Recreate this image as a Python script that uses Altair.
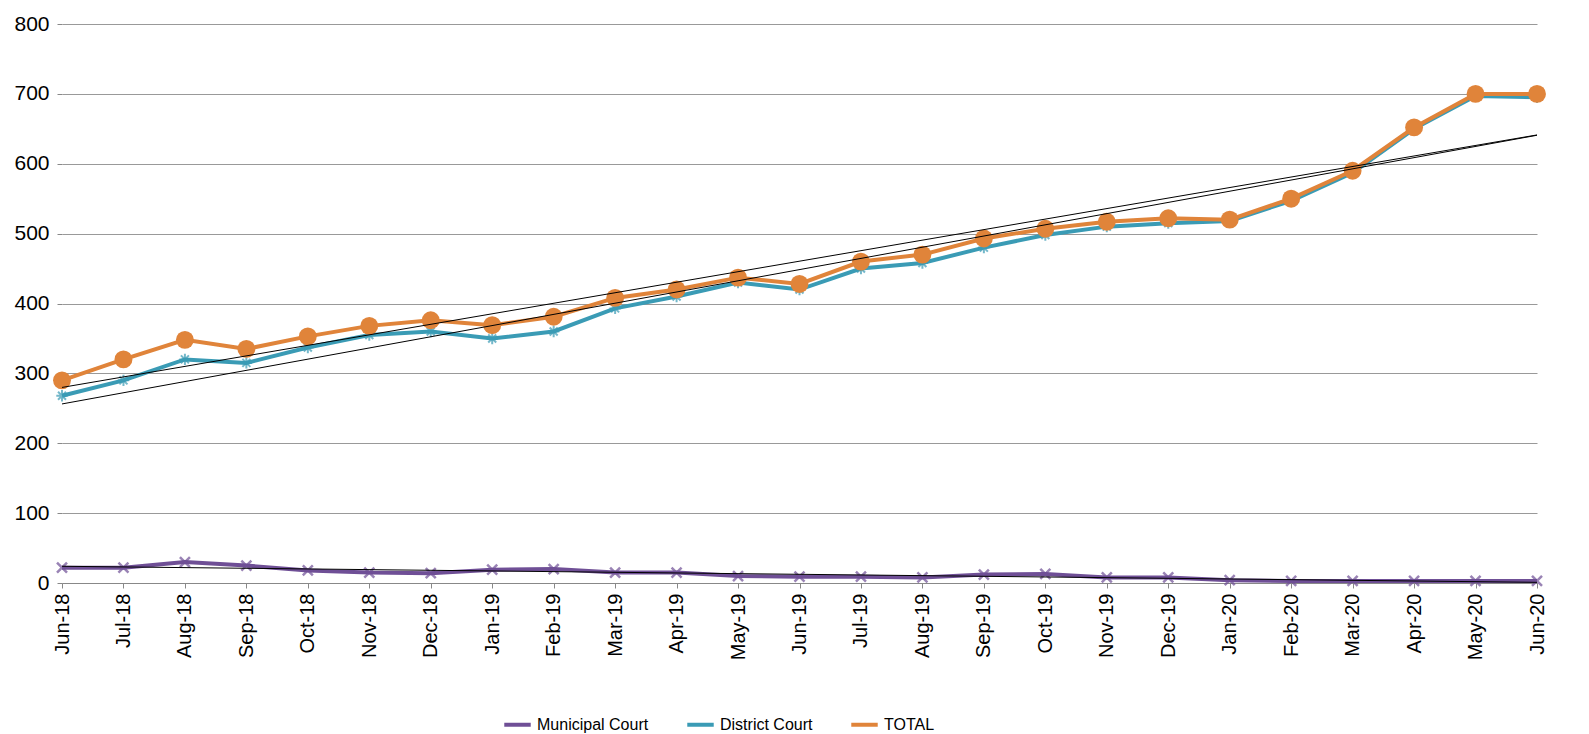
import altair as alt
import pandas as pd

months = ["Jun-18","Jul-18","Aug-18","Sep-18","Oct-18","Nov-18","Dec-18","Jan-19","Feb-19","Mar-19","Apr-19","May-19","Jun-19","Jul-19","Aug-19","Sep-19","Oct-19","Nov-19","Dec-19","Jan-20","Feb-20","Mar-20","Apr-20","May-20","Jun-20"]
municipal = [22,22,30,25,18,15,14,19,20,15,15,10,9,9,8,12,13,8,8,4,3,3,3,3,3]
district = [268,290,320,315,337,355,360,350,360,393,410,430,420,450,458,480,498,510,515,518,547,587,650,697,695]
total = [290,320,348,335,353,368,376,369,381,408,420,437,428,460,470,493,507,517,522,520,550,590,652,700,700]

series = ["Municipal Court","District Court","TOTAL"]
colors = ["#6F4F96","#3A9BB5","#E0843A"]
rows = []
for name, vals in zip(series, [municipal, district, total]):
    for i, v in enumerate(vals):
        rows.append({"i": i, "month": months[i], "series": name, "value": v})
df = pd.DataFrame(rows)

labexpr = "[" + ",".join(f"'{m}'" for m in months) + "][datum.value]"
x = alt.X("i:Q", scale=alt.Scale(domain=[0, 24], nice=False, zero=False),
          axis=alt.Axis(values=list(range(25)), labelExpr=labexpr, labelAngle=-90, title=None,
                        grid=False, labelFontSize=20, labelColor="#000", domainColor="#888",
                        tickColor="#888", labelPadding=5, labelFont="Liberation Sans"))
y = alt.Y("value:Q", scale=alt.Scale(domain=[0, 800]),
          axis=alt.Axis(values=list(range(0, 801, 100)), title=None, labelFontSize=21, labelColor="#000",
                        gridColor="#999", domainColor="#888", tickColor="#888", domain=False,
                        labelFont="Liberation Sans", labelPadding=8))
color = alt.Color("series:N", scale=alt.Scale(domain=series, range=colors),
                  legend=alt.Legend(orient="none", legendX=440, legendY=685, direction="horizontal",
                                    title=None, symbolType="stroke", symbolStrokeWidth=4,
                                    labelFontSize=16, symbolSize=700, columnPadding=30,
                                    labelFont="Liberation Sans", labelColor="#000"))

base = alt.Chart(df)
lines = base.mark_line(strokeWidth=4).encode(x=x, y=y, color=color)
trend = base.transform_regression("i", "value", groupby=["series"]).mark_line(
    color="#000", strokeWidth=1).encode(x="i:Q", y="value:Q", detail="series:N")
mun = base.transform_filter("datum.series=='Municipal Court'").mark_point(
    shape="M-1,-1L1,1M-1,1L1,-1", strokeWidth=2.5, size=100, color=colors[0]).encode(x=x, y=y)
dis = base.transform_filter("datum.series=='District Court'").mark_point(
    shape="M-1,0L1,0M0,-1L0,1M-0.7,-0.7L0.7,0.7M-0.7,0.7L0.7,-0.7", strokeWidth=2, size=130, color=colors[1]).encode(x=x, y=y)
tot = base.transform_filter("datum.series=='TOTAL'").mark_circle(size=320, opacity=1, color=colors[2]).encode(x=x, y=y)

chart = alt.layer(lines, dis, tot, mun, trend).properties(width=1475, height=559).configure_view(stroke=None)
chart.save("out.html", embed_options={"renderer": "svg", "actions": False})
